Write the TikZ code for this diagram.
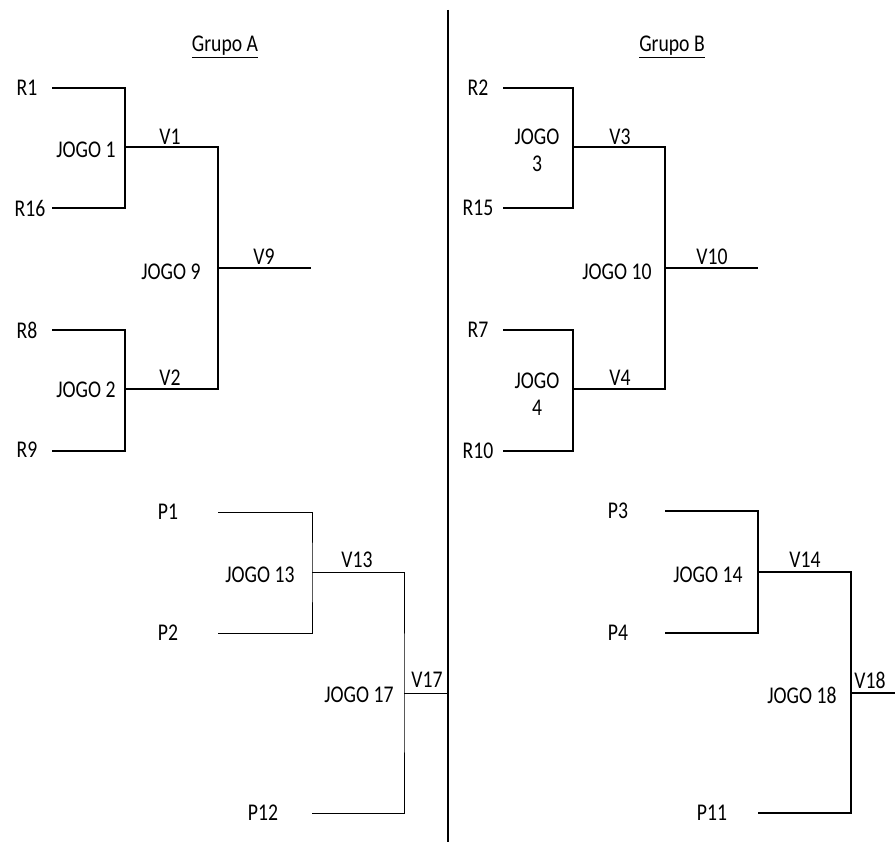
\documentclass[tikz,border=0pt]{standalone}
\usepackage{fontspec}
\setmainfont{Carlito}[FakeStretch=0.82]
\begin{document}
\begin{tikzpicture}[x=1pt,y=-1pt,
  lbl/.style={inner sep=0pt,font=\fontsize{24}{25}\selectfont},
  two/.style={lbl,align=center,font=\fontsize{24}{27}\selectfont},
  brk/.style={line width=2pt},
  thinbrk/.style={line width=1pt},
  divider/.style={line width=2.6pt}]
\useasboundingbox (0,0) rectangle (895,842);
% divider
\coordinate (dtop) at (448,10);
\coordinate (dbot) at (448,842);
\draw[divider] (dtop) -- (dbot);
% headings
\node[lbl] (ga) at (225,47) {\underline{Grupo A}};
\node[lbl] (gb) at (672,47) {\underline{Grupo B}};
% ---------- Group A upper
\node[lbl] (r1) at (27,88) {R1};
\node[lbl] (r16) at (30,208) {R16};
\node[lbl] (r8) at (27,330) {R8};
\node[lbl] (r9) at (27,450) {R9};
\node[lbl] (j1) at (86,150) {JOGO 1};
\node[lbl] (j2) at (86,390) {JOGO 2};
\node[lbl] (j9) at (171,272) {JOGO 9};
\node[lbl] (v1) at (170,137) {V1};
\node[lbl] (v2) at (170,378) {V2};
\node[lbl] (v9) at (264,257) {V9};
\coordinate (a1) at (52,88);
\coordinate (a16) at (52,208);
\coordinate (a8) at (52,330);
\coordinate (a9) at (52,451);
\coordinate (m1) at (125,147);
\coordinate (m2) at (125,389);
\coordinate (m9) at (218,268);
\coordinate (e9) at (311,268);
\draw[brk] (a1) -| (m1) |- (a16);
\draw[brk] (a8) -| (m2) |- (a9);
\draw[brk] (m1) -| (m9) |- (m2);
\draw[brk] (m9) -- (e9);
% ---------- Group B upper
\node[lbl] (r2) at (478,88) {R2};
\node[lbl] (r15) at (478,208) {R15};
\node[lbl] (r7) at (478,330) {R7};
\node[lbl] (r10) at (478,451) {R10};
\node[two] (j3) at (537,150) {JOGO\\3};
\node[two] (j4) at (537,394) {JOGO\\4};
\node[lbl] (j10) at (617,272) {JOGO 10};
\node[lbl] (v3) at (620,137) {V3};
\node[lbl] (v4) at (620,378) {V4};
\node[lbl] (v10) at (712,257) {V10};
\coordinate (b2) at (503,88);
\coordinate (b15) at (503,208);
\coordinate (b7) at (503,330);
\coordinate (b10) at (503,451);
\coordinate (n3) at (573,147);
\coordinate (n4) at (573,389);
\coordinate (n10) at (665,268);
\coordinate (e10) at (758,268);
\draw[brk] (b2) -| (n3) |- (b15);
\draw[brk] (b7) -| (n4) |- (b10);
\draw[brk] (n3) -| (n10) |- (n4);
\draw[brk] (n10) -- (e10);
% ---------- Group A lower
\node[lbl] (p1) at (168,512) {P1};
\node[lbl] (p2) at (168,633) {P2};
\node[lbl] (p12) at (263,813) {P12};
\node[lbl] (j13) at (260,575) {JOGO 13};
\node[lbl] (j17) at (359,695) {JOGO 17};
\node[lbl] (v13) at (357,560) {V13};
\node[lbl] (v17) at (427,680) {V17};
\coordinate (c1) at (218,512);
\coordinate (c2) at (218,633);
\coordinate (c12) at (312,813);
\coordinate (k13) at (312,572);
\coordinate (k17) at (404,693);
\coordinate (e17) at (448,693);
\draw[thinbrk] (c1) -| (k13) |- (c2);
\draw[thinbrk] (k13) -| (k17) |- (c12);
\draw[thinbrk] (k17) -- (e17);
% ---------- Group B lower
\node[lbl] (p3) at (618,511) {P3};
\node[lbl] (p4) at (618,633) {P4};
\node[lbl] (p11) at (712,813) {P11};
\node[lbl] (j14) at (708,575) {JOGO 14};
\node[lbl] (j18) at (802,695) {JOGO 18};
\node[lbl] (v14) at (805,560) {V14};
\node[lbl] (v18) at (870,680) {V18};
\coordinate (d3) at (665,511);
\coordinate (d4) at (665,633);
\coordinate (d11) at (758,813);
\coordinate (q14) at (758,572);
\coordinate (q18) at (851,693);
\coordinate (e18) at (895,693);
\draw[brk] (d3) -| (q14) |- (d4);
\draw[brk] (q14) -| (q18) |- (d11);
\draw[brk] (q18) -- (e18);
\end{tikzpicture}
\end{document}
